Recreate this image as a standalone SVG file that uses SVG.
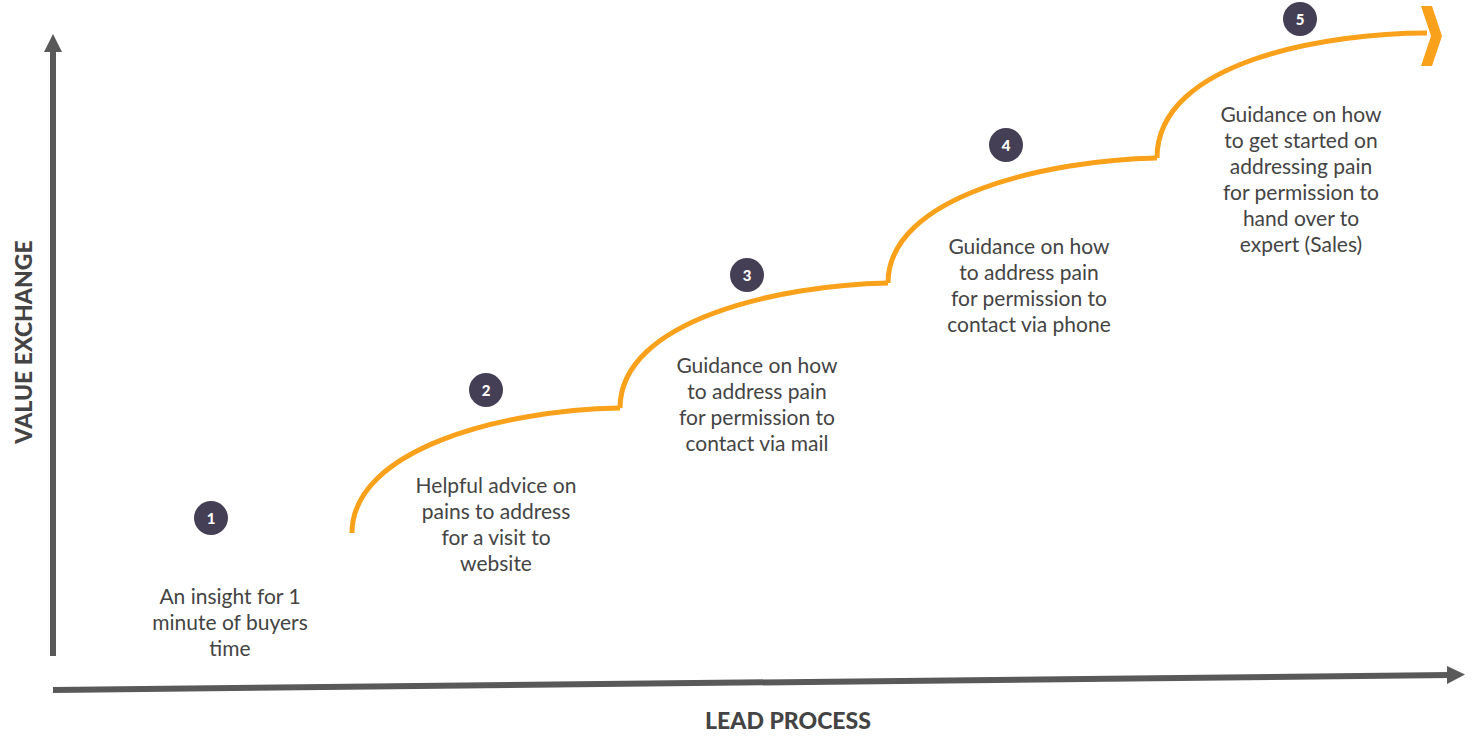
<svg xmlns="http://www.w3.org/2000/svg" width="1483" height="751" viewBox="0 0 1483 751">
<style>
.t{font-family:Lato,"Open Sans",sans-serif;font-size:21px;fill:#444;text-anchor:middle}
.b{fill:#453f55}
.n{font-family:Lato,sans-serif;font-weight:900;font-size:15px;fill:#fff;text-anchor:middle}
.c{fill:none;stroke:#f9a11b;stroke-width:5}
.ax{stroke:#595959;stroke-width:6;fill:none}
.lab{font-family:Lato,sans-serif;font-weight:900;font-size:23px;fill:#444;text-anchor:middle}
</style>
<rect width="1483" height="751" fill="#fff"/>
<g id="axes">
<line class="ax" x1="53" y1="656" x2="53" y2="50"/>
<polygon points="44,52 53,34 62,52" fill="#595959"/>
<line class="ax" x1="53" y1="690" x2="1450" y2="675"/>
<polygon points="1447,666 1465,674.5 1447,684" fill="#595959"/>
<text class="lab" transform="translate(32,342) rotate(-90)">VALUE EXCHANGE</text>
<text class="lab" x="788" y="729">LEAD PROCESS</text>
</g>
<g id="connectors">
<path class="c" d="M352,533 C352,450 500,410 620,408"/>
<path class="c" d="M620,408 C620,320 780,285 888,283"/>
<path class="c" d="M888,283 C888,195 1050,160 1157,158"/>
<path class="c" d="M1157,158 C1157,60 1330,33 1427,33"/>
<polygon points="1421,6 1432,6 1442,36 1432,66 1421,66 1431,36" fill="#f9a11b"/>
</g>
<g id="step1"><circle class="b" cx="211" cy="518" r="17"/><text class="n" x="211" y="524">1</text>
<text class="t" x="230" y="604">An insight for 1</text><text class="t" x="230" y="630">minute of buyers</text><text class="t" x="230" y="656">time</text></g>
<g id="step2"><circle class="b" cx="486" cy="390" r="17"/><text class="n" x="486" y="396">2</text>
<text class="t" x="496" y="493">Helpful advice on</text><text class="t" x="496" y="519">pains to address</text><text class="t" x="496" y="545">for a visit to</text><text class="t" x="496" y="571">website</text></g>
<g id="step3"><circle class="b" cx="747" cy="275" r="17"/><text class="n" x="747" y="281">3</text>
<text class="t" x="757" y="373">Guidance on how</text><text class="t" x="757" y="399">to address pain</text><text class="t" x="757" y="425">for permission to</text><text class="t" x="757" y="451">contact via mail</text></g>
<g id="step4"><circle class="b" cx="1006" cy="145" r="17"/><text class="n" x="1006" y="151">4</text>
<text class="t" x="1029" y="254">Guidance on how</text><text class="t" x="1029" y="280">to address pain</text><text class="t" x="1029" y="306">for permission to</text><text class="t" x="1029" y="332">contact via phone</text></g>
<g id="step5"><circle class="b" cx="1300" cy="19" r="17"/><text class="n" x="1300" y="25">5</text>
<text class="t" x="1301" y="122">Guidance on how</text><text class="t" x="1301" y="148">to get started on</text><text class="t" x="1301" y="174">addressing pain</text><text class="t" x="1301" y="200">for permission to</text><text class="t" x="1301" y="226">hand over to</text><text class="t" x="1301" y="252">expert (Sales)</text></g>
</svg>
